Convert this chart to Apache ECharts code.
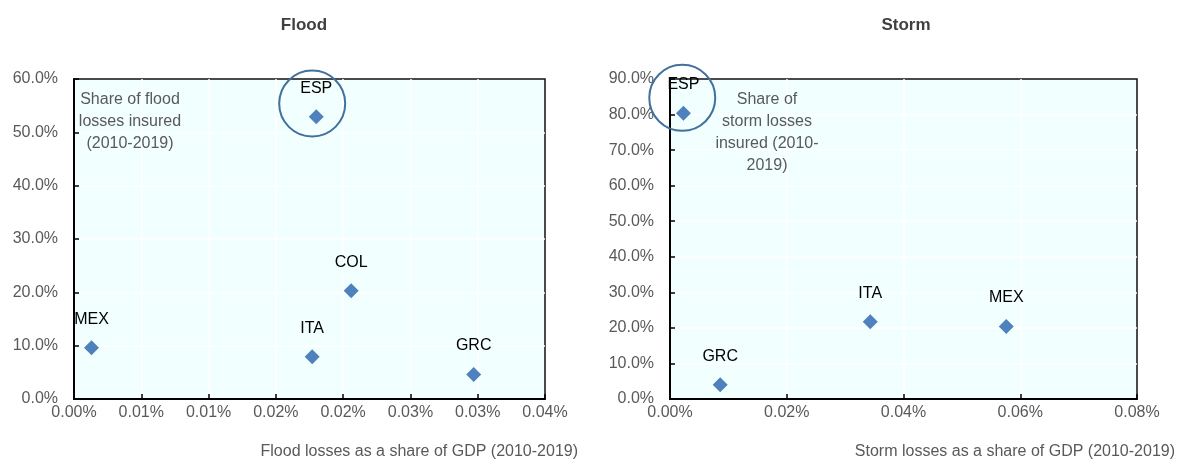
<!DOCTYPE html>
<html>
<head>
<meta charset="utf-8">
<script src="https://cdn.jsdelivr.net/npm/echarts@6/dist/echarts.min.js"></script>
<style>
html,body{margin:0;padding:0;background:#fff;}
#chart{width:1177px;height:460px;}
</style>
</head>
<body>
<div id="chart"></div>
<script>
// ---- Data ----
const floodCountries = ['MEX', 'ITA', 'ESP', 'COL', 'GRC'];
const floodLossShare = [0.0013, 0.0177, 0.0180, 0.0206, 0.0297];   // % of GDP
const floodInsured = [9.6, 7.9, 52.9, 20.3, 4.6];                  // % insured
const stormCountries = ['ESP', 'GRC', 'ITA', 'MEX'];
const stormLossShare = [0.0023, 0.0086, 0.0343, 0.0576];
const stormInsured = [80.4, 4.0, 21.7, 20.4];
const floodHighlight = [0.0177, 55.4];
const stormHighlight = [0.0021, 84.7];

const floodXTickLabels = ['0.00%', '0.01%', '0.01%', '0.02%', '0.02%', '0.03%', '0.03%', '0.04%'];
const floodYTickLabels = ['0.0%', '10.0%', '20.0%', '30.0%', '40.0%', '50.0%', '60.0%'];
const stormXTickLabels = ['0.00%', '0.02%', '0.04%', '0.06%', '0.08%'];
const stormYTickLabels = ['0.0%', '10.0%', '20.0%', '30.0%', '40.0%', '50.0%', '60.0%', '70.0%', '80.0%', '90.0%'];

const titles = ['Flood', 'Storm'];
const xTitles = ['Flood losses as a share of GDP (2010-2019)', 'Storm losses as a share of GDP (2010-2019)'];
const notes = ['Share of flood\nlosses insured\n(2010-2019)', 'Share of\nstorm losses\ninsured (2010-\n2019)'];

// ---- Styles ----
const FONT = '"Liberation Sans Narrow", "Arial Narrow", "Liberation Sans", Arial, sans-serif';
const FS = 16;
const GRAY = '#595959';
const MARK = '#4F81BD';

function xAxisCfg(gi, max, interval, labels) {
  return {
    gridIndex: gi, type: 'value', min: 0, max: max, interval: interval,
    axisLine: { show: true, onZero: false, lineStyle: { color: '#000', width: 2 } },
    axisTick: { show: true, inside: true, length: 5, lineStyle: { color: '#000', width: 1.5 } },
    axisLabel: { color: GRAY, fontSize: FS, fontFamily: FONT, margin: 6,
      formatter: v => labels[Math.round(v / interval)] },
    splitLine: { show: true, showMinLine: false, showMaxLine: false, lineStyle: { color: '#fff', width: 1.5 } }
  };
}
function yAxisCfg(gi, max, labels) {
  return {
    gridIndex: gi, type: 'value', min: 0, max: max, interval: 10,
    axisLine: { show: true, onZero: false, lineStyle: { color: '#000', width: 2 } },
    axisTick: { show: true, inside: true, length: 5, lineStyle: { color: '#000', width: 1.5 } },
    axisLabel: { color: GRAY, fontSize: FS, fontFamily: FONT, margin: 16,
      formatter: v => labels[Math.round(v / 10)] },
    splitLine: { show: true, showMinLine: false, showMaxLine: false, lineStyle: { color: '#fff', width: 1.5 } }
  };
}
function pointSeries(gi, xs, ys, names) {
  return {
    type: 'scatter', xAxisIndex: gi, yAxisIndex: gi,
    symbol: 'diamond', symbolSize: 15,
    itemStyle: { color: MARK, opacity: 1 },
    label: { show: true, position: 'top', distance: 13, color: '#000', fontSize: FS, fontFamily: FONT,
      formatter: p => p.data[2] },
    data: xs.map((x, i) => [x, ys[i], names[i]]),
    z: 3
  };
}
function circleSeries(gi, pt) {
  return {
    type: 'scatter', xAxisIndex: gi, yAxisIndex: gi, clip: false,
    symbol: 'circle', symbolSize: 66, silent: true,
    itemStyle: { color: 'rgba(0,0,0,0)', borderColor: '#41719C', borderWidth: 2, opacity: 1 },
    data: [pt], z: 4
  };
}

const chart = echarts.init(document.getElementById('chart'), null, { renderer: 'canvas' });
chart.setOption({
  animation: false,
  grid: [
    { left: 74, top: 79, width: 471, height: 320, show: true, backgroundColor: '#F2FFFF', borderColor: '#111', borderWidth: 1.5 },
    { left: 670, top: 79, width: 467, height: 320, show: true, backgroundColor: '#F2FFFF', borderColor: '#111', borderWidth: 1.5 }
  ],
  xAxis: [
    xAxisCfg(0, 0.035, 0.005, floodXTickLabels),
    xAxisCfg(1, 0.08, 0.02, stormXTickLabels)
  ],
  yAxis: [
    yAxisCfg(0, 60, floodYTickLabels),
    yAxisCfg(1, 90, stormYTickLabels)
  ],
  series: [
    pointSeries(0, floodLossShare, floodInsured, floodCountries),
    circleSeries(0, floodHighlight),
    pointSeries(1, stormLossShare, stormInsured, stormCountries),
    circleSeries(1, stormHighlight)
  ],
  graphic: [
    { type: 'text', z: 100, x: 304, y: 25, style: { text: titles[0], font: 'bold 17px ' + FONT, fill: '#404040', align: 'center', verticalAlign: 'middle' } },
    { type: 'text', z: 100, x: 906, y: 25, style: { text: titles[1], font: 'bold 17px ' + FONT, fill: '#404040', align: 'center', verticalAlign: 'middle' } },
    { type: 'text', z: 100, x: 578, y: 452, style: { text: xTitles[0], font: FS + 'px ' + FONT, fill: GRAY, align: 'right', verticalAlign: 'middle' } },
    { type: 'text', z: 100, x: 1175, y: 452, style: { text: xTitles[1], font: FS + 'px ' + FONT, fill: GRAY, align: 'right', verticalAlign: 'middle' } },
    { type: 'text', z: 100, x: 130, y: 89, style: { text: notes[0], font: FS + 'px ' + FONT, fill: GRAY, align: 'center', verticalAlign: 'top', lineHeight: 22 } },
    { type: 'text', z: 100, x: 767, y: 89, style: { text: notes[1], font: FS + 'px ' + FONT, fill: GRAY, align: 'center', verticalAlign: 'top', lineHeight: 22 } }
  ]
});
</script>
</body>
</html>
